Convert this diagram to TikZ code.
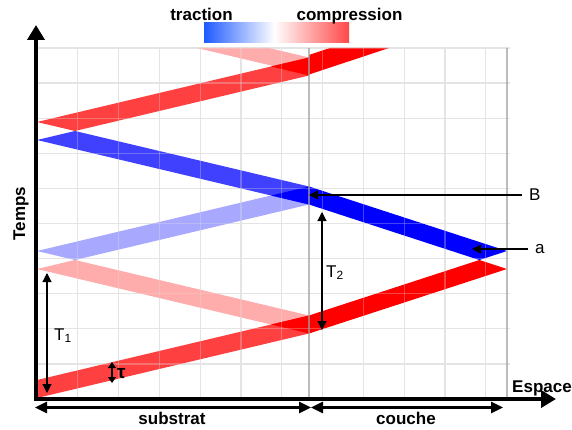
\documentclass[tikz,border=0pt]{standalone}
\usepackage{fontspec}
\setmainfont{Liberation Sans}
\usetikzlibrary{arrows.meta}
\definecolor{redS}{RGB}{255,64,64}
\definecolor{redC}{RGB}{255,0,0}
\definecolor{blueS}{RGB}{64,64,255}
\definecolor{blueC}{RGB}{0,0,255}
\definecolor{pinkP}{RGB}{255,172,172}
\definecolor{blueP}{RGB}{168,168,255}
\definecolor{gridc}{RGB}{228,228,228}
\definecolor{ifc}{RGB}{160,160,160}
\definecolor{barblue}{RGB}{30,90,255}
\definecolor{barred}{RGB}{255,72,72}
\tikzset{
  boldlab/.style={font=\fontsize{17}{20}\selectfont\bfseries, inner sep=0pt},
  plainlab/.style={font=\fontsize{17}{20}\selectfont, inner sep=0pt},
  gridline/.style={gridc, line width=1.2pt},
  ifline/.style={ifc, line width=1.2pt},
  axisline/.style={line width=4pt, line join=miter, {Triangle[length=15pt,width=17pt]}-{Triangle[length=15pt,width=17pt]}},
  dimarrow/.style={line width=2.6pt, {Triangle[length=12pt,width=11pt]}-{Triangle[length=12pt,width=11pt]}},
  pointer/.style={line width=1.1pt, -{Triangle[length=9pt,width=9pt]}},
  period/.style={line width=1.1pt, {Triangle[length=9pt,width=9pt]}-{Triangle[length=9pt,width=9pt]}},
  smallperiod/.style={line width=1.3pt, {Triangle[length=6pt,width=8pt]}-{Triangle[length=6pt,width=8pt]}}
}
\begin{document}
\begin{tikzpicture}[x=1pt,y=-1pt]
\useasboundingbox (0,0) rectangle (572,430);
\fill[white] (0,0) rectangle (572,430);

% grid
\foreach \x in {77.8,118.6,159.4,200.2,241,281.8,322.6,363.4,404.2,445,485.8}
  \draw[gridline] (\x,48) -- (\x,398);
\foreach \y in {48,83.1,118.2,153.3,188.4,223.5,258.6,293.7,328.8,363.9}
  \draw[gridline] (37,\y) -- (510,\y);

% pale bands
\fill[pinkP] (37,269) -- (74.95,260) -- (309,315.5) -- (309,333.5) -- cycle;
\fill[blueP] (37,251) -- (309,186.5) -- (309,204.5) -- (74.95,260) -- cycle;
\fill[pinkP] (309,57.5) -- (268.94,48) -- (197,48) -- (309,74.5) -- cycle;
% substrate bands
\fill[redS] (37,380) -- (309,315.5) -- (309,333.5) -- (37,398) -- cycle;
\fill[blueS] (309,186.5) -- (309,204.5) -- (37,140) -- (74.95,131) -- cycle;
\fill[redS] (37,122) -- (309,57.5) -- (309,75.5) -- (74.95,131) -- cycle;
% layer bands
\fill[redC] (309,315.5) -- (479.37,260) -- (507,269) -- (309,333.5) -- cycle;
\fill[blueC] (507,251) -- (309,186.5) -- (309,204.5) -- (479.37,260) -- cycle;
\fill[redC] (309,55) -- (330,48) -- (389,48) -- (309,74.5) -- cycle;
% overlaps at the interface
\fill[redC] (309,315.5) -- (271.05,324.5) -- (309,333.5) -- cycle;
\fill[blueC] (309,186.5) -- (271.05,195.5) -- (309,204.5) -- cycle;
\fill[redC] (309,57.5) -- (271.05,66.5) -- (309,75.5) -- cycle;

% faint grid over bands
\begin{scope}[opacity=0.3]
\foreach \x in {77.8,118.6,159.4,200.2,241,281.8,322.6,363.4,404.2,445,485.8}
  \draw[gridline] (\x,48) -- (\x,398);
\foreach \y in {48,83.1,118.2,153.3,188.4,223.5,258.6,293.7,328.8,363.9}
  \draw[gridline] (37,\y) -- (510,\y);
\end{scope}
% interface and surface lines
\draw[ifline, opacity=0.7] (309,48) -- (309,398);
\draw[ifline, opacity=0.7] (507,48) -- (507,398);

% colour bar
\shade[left color=barblue, right color=white] (204,23) rectangle (274.5,43);
\shade[left color=white, right color=barred] (274,23) rectangle (349,43);
\node[boldlab, anchor=base] (trac) at (201.5,21) {traction};
\node[boldlab, anchor=base] (comp) at (349.5,21) {compression};

% axes
\coordinate (ytip) at (36,25);
\coordinate (orig) at (36,399);
\coordinate (xtip) at (556,399);
\draw[axisline] (ytip) -- (orig) -- (xtip);
\node[boldlab, anchor=base, rotate=90] (temps) at (25,213.5) {Temps};
\node[boldlab, anchor=base west] (esp) at (512,392) {Espace};

% dimension arrows
\coordinate (s0) at (35,407.5);
\coordinate (s1) at (311,407.5);
\coordinate (c0) at (311,407.5);
\coordinate (c1) at (503,407.5);
\draw[dimarrow] (s0) -- (s1);
\draw[dimarrow] (c0) -- (c1);
\node[boldlab, anchor=base] (subs) at (172,424) {substrat};
\node[boldlab, anchor=base] (couche) at (406,424) {couche};

% pointers
\node[plainlab, anchor=base west] (Blab) at (529,201) {B};
\node[plainlab, anchor=base west] (alab) at (535,253) {a};
\coordinate (Bs) at (522,195);
\coordinate (Bt) at (309,195);
\coordinate (as) at (528,249);
\coordinate (at) at (472,249);
\draw[pointer] (Bs) -- (Bt);
\draw[pointer] (as) -- (at);

% periods
\coordinate (T1a) at (47,273);
\coordinate (T1b) at (47,393);
\coordinate (T2a) at (322,212);
\coordinate (T2b) at (322,330);
\coordinate (ta) at (112,362);
\coordinate (tb) at (112,383);
\draw[period] (T1a) -- (T1b);
\draw[period] (T2a) -- (T2b);
\draw[smallperiod] (ta) -- (tb);
\node[plainlab, anchor=base west] (T1) at (54,340) {T\textsubscript{1}};
\node[plainlab, anchor=base west] (T2) at (326,277) {T\textsubscript{2}};
\node[boldlab, anchor=base west, font=\fontsize{19}{22}\selectfont\bfseries] (tau) at (117,378) {τ};
\end{tikzpicture}
\end{document}
